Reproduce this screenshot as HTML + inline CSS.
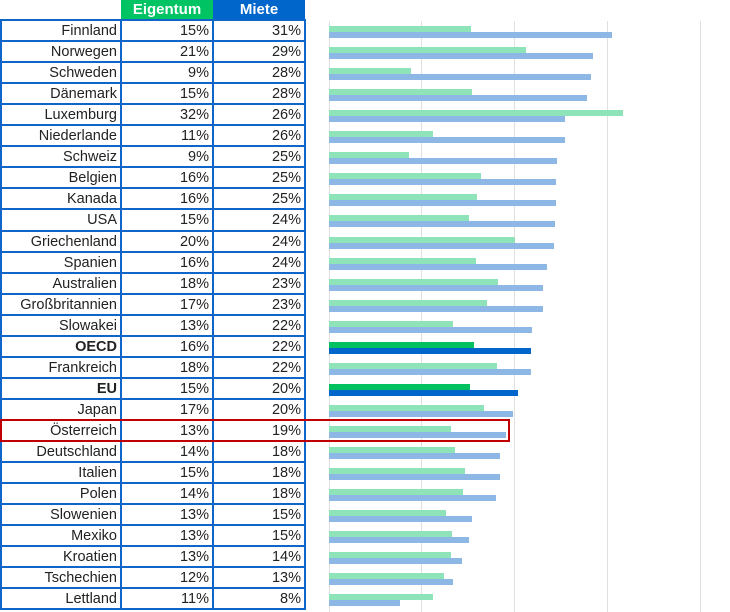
<!DOCTYPE html><html><head><meta charset="utf-8"><style>
body{margin:0;width:730px;height:612px;background:#fff;font-family:"Liberation Sans",sans-serif;position:relative;overflow:hidden;color:#222}
.g{position:absolute;top:21px;width:1px;height:591px;background:#e0e0e0}
.b{position:absolute;height:6px}
.lg{background:#8fe3b8}.lb{background:#8db8e6}.dg{background:#00c060}.db{background:#0066cc}
.hl{position:absolute;left:0;width:306px;height:2px;background:#1066c8}
.vl{position:absolute;top:20px;width:2px;height:590px;background:#1066c8}
.t{position:absolute;height:21px;line-height:21px;font-size:14.5px;text-align:right}
.hd{position:absolute;top:0;height:20px;line-height:20px;color:#fff;font-weight:bold;font-size:15px;text-align:center}
</style></head><body>
<div class="g" style="left:329px"></div><div class="g" style="left:421px"></div><div class="g" style="left:514px"></div><div class="g" style="left:607px"></div><div class="g" style="left:700px"></div>
<div class="hd" style="left:121px;width:92px;background:#00c464">Eigentum</div>
<div class="hd" style="left:213px;width:92px;background:#0066cc">Miete</div>
<div id="c"></div>
<div style="position:absolute;left:0;top:419px;width:506px;height:19px;border:2px solid #c00000"></div>
<script>
var d=[["Finnland",15,31,471,612],["Norwegen",21,29,526,593],["Schweden",9,28,411,591],["Dänemark",15,28,472,587],["Luxemburg",32,26,623,565],["Niederlande",11,26,433,565],["Schweiz",9,25,409,557],["Belgien",16,25,481,556],["Kanada",16,25,477,556],["USA",15,24,469,555],["Griechenland",20,24,515,554],["Spanien",16,24,476,547],["Australien",18,23,498,543],["Großbritannien",17,23,487,543],["Slowakei",13,22,453,532],["OECD",16,22,474,531,1],["Frankreich",18,22,497,531],["EU",15,20,470,518,1],["Japan",17,20,484,513],["Österreich",13,19,451,506],["Deutschland",14,18,455,500],["Italien",15,18,465,500],["Polen",14,18,463,496],["Slowenien",13,15,446,472],["Mexiko",13,15,452,469],["Kroatien",13,14,451,462],["Tschechien",12,13,444,453],["Lettland",11,8,433,400]];
var c="";
for(var i=0;i<=28;i++)c+='<div class="hl" style="top:'+Math.round(20+i*21.05-1)+'px"></div>';
[0,120,212,304].forEach(function(x){c+='<div class="vl" style="left:'+x+'px"></div>';});
d.forEach(function(r,i){var y=Math.round(21+i*21.05);
var fw=r[5]?'font-weight:bold;':'';
c+='<div class="t" style="'+fw+'left:0;width:117px;top:'+y+'px">'+r[0]+'</div>';
c+='<div class="t" style="left:121px;width:88px;top:'+y+'px">'+r[1]+'%</div>';
c+='<div class="t" style="left:213px;width:88px;top:'+y+'px">'+r[2]+'%</div>';
c+='<div class="b '+(r[5]?'dg':'lg')+'" style="left:329px;top:'+(y+5)+'px;width:'+(r[3]-329)+'px"></div>';
c+='<div class="b '+(r[5]?'db':'lb')+'" style="left:329px;top:'+(y+11)+'px;width:'+(r[4]-329)+'px"></div>';});
document.getElementById("c").innerHTML=c;
</script>
</body></html>
